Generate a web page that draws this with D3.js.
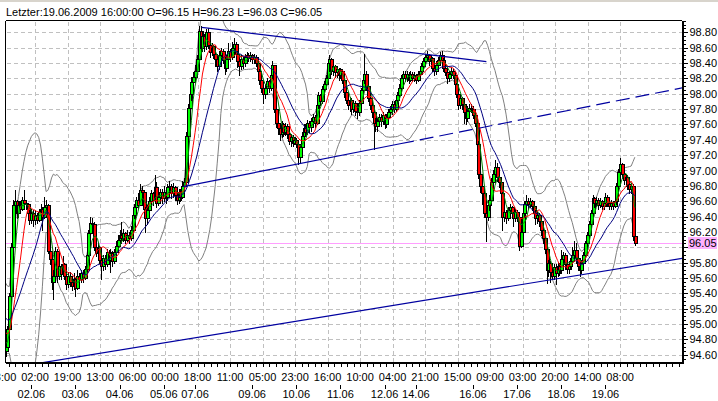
<!DOCTYPE html>
<html><head><meta charset="utf-8">
<script src="https://cdn.jsdelivr.net/npm/d3@7"></script>
<style>
body{margin:0;background:#fff;}
svg{display:block;}
text{font-family:"Liberation Sans",Arial,sans-serif;font-size:11px;fill:#000;}
</style></head>
<body><svg id="chart" width="718" height="401"></svg>
<script>
// ---------------- DATA ----------------
// Hourly USD/JPY bars. Index 0 = 02.06.2009 02:00. Visible bars run from index -16 to 326.
const firstBar = -16;
// closes before the visible window (indices -45..-17), only used to warm up the indicators
const preCloses = [95.62,95.58,95.60,95.55,95.52,95.56,95.48,95.45,95.50,95.42,95.38,95.40,95.34,95.30,95.33,95.25,95.20,95.22,95.15,95.10,95.12,95.05,95.00,95.02,94.95,94.88,94.80,94.72,94.65];
const closes = [
94.70,94.93,95.36,96.00,96.55,96.60,96.45,96.55,96.50,96.62,
96.58,96.56,96.45,96.36,96.45,96.35,96.42,96.36,96.46,96.50,
96.40,96.52,96.55,95.95,95.85,95.55,95.62,95.95,95.62,95.75,
95.65,95.78,95.62,95.52,95.62,95.55,95.50,95.58,95.47,95.62,
95.58,95.66,95.60,95.72,95.90,96.18,96.32,96.30,96.00,95.92,
96.00,95.84,95.75,95.86,95.78,95.94,95.84,95.92,95.82,95.94,
96.02,96.10,96.16,96.12,96.18,96.10,96.16,96.12,96.22,96.42,
96.52,96.62,96.55,96.75,96.72,96.50,96.38,96.48,96.60,96.70,
96.62,96.78,96.58,96.66,96.72,96.64,96.72,96.66,96.78,96.80,
96.70,96.78,96.68,96.62,96.72,96.66,96.80,96.85,97.45,97.82,
98.00,98.15,98.22,98.30,98.45,98.82,98.60,98.75,98.62,98.80,
98.64,98.54,98.62,98.52,98.45,98.36,98.50,98.55,98.44,98.34,
98.45,98.55,98.48,98.60,98.65,98.52,98.42,98.36,98.45,98.40,
98.48,98.50,98.46,98.50,98.45,98.48,98.40,98.30,98.18,98.08,
98.00,98.08,98.16,98.08,98.25,98.38,97.80,97.62,97.55,97.48,
97.60,97.50,97.58,97.48,97.38,97.44,97.36,97.40,97.34,97.18,
97.30,97.45,97.55,97.50,97.62,97.56,97.64,97.70,97.62,97.85,
97.98,97.90,98.06,98.12,98.20,98.40,98.45,98.30,98.36,98.28,
98.32,98.24,98.30,98.18,98.02,97.92,97.85,97.92,97.80,97.88,
97.78,97.76,97.88,98.05,98.18,98.26,98.10,97.94,97.85,97.76,
97.62,97.58,97.64,97.70,97.64,97.72,97.60,97.70,97.76,97.80,
97.86,97.80,97.92,97.98,98.08,98.20,98.26,98.20,98.26,98.18,
98.26,98.20,98.24,98.18,98.26,98.30,98.36,98.42,98.48,98.50,
98.42,98.46,98.34,98.30,98.38,98.44,98.50,98.44,98.34,98.28,
98.20,98.26,98.30,98.24,98.12,98.00,97.85,97.95,97.86,97.76,
97.68,97.78,97.82,97.80,97.72,97.62,97.35,96.95,96.80,96.70,
96.45,96.40,96.55,96.62,96.85,96.95,97.05,96.92,96.85,96.70,
96.40,96.46,96.38,96.48,96.52,96.44,96.38,96.46,96.40,96.02,
96.20,96.44,96.56,96.60,96.56,96.60,96.54,96.44,96.38,96.42,
96.34,96.22,96.12,95.98,95.70,95.80,95.68,95.62,95.74,95.66,
95.76,95.70,95.85,95.90,95.78,95.72,95.76,95.82,95.90,95.96,
95.86,95.76,95.70,95.80,95.90,96.05,96.16,96.30,96.44,96.64,
96.58,96.62,96.55,96.60,96.54,96.58,96.66,96.58,96.54,96.58,
96.54,96.60,96.80,96.98,97.08,96.96,96.88,96.92,96.82,96.76,
96.80,96.15,96.05];
const highs = [
94.72,94.98,95.40,96.05,96.62,96.75,96.62,96.60,96.60,96.65,
96.74,96.62,96.58,96.48,96.50,96.48,96.48,96.45,96.50,96.56,
96.52,96.66,96.62,96.56,96.00,95.85,95.70,96.00,95.98,95.80,
95.78,95.88,95.80,95.66,95.68,95.68,95.58,95.66,95.60,95.70,
95.66,95.70,95.70,95.76,95.94,96.22,96.40,96.38,96.33,96.02,
96.05,96.02,95.88,95.90,95.90,95.98,95.96,95.98,95.95,95.98,
96.08,96.16,96.22,96.33,96.24,96.20,96.22,96.20,96.28,96.46,
96.56,96.66,96.70,96.83,96.80,96.75,96.52,96.55,96.65,96.75,
96.72,96.94,96.85,96.72,96.76,96.76,96.80,96.75,96.82,96.86,
96.82,96.84,96.80,96.72,96.76,96.76,96.86,96.90,97.50,97.86,
98.10,98.22,98.28,98.38,98.50,98.88,98.88,98.82,98.78,98.84,
98.85,98.68,98.66,98.64,98.56,98.48,98.55,98.60,98.58,98.48,
98.50,98.66,98.58,98.68,98.72,98.68,98.56,98.48,98.50,98.48,
98.52,98.54,98.53,98.54,98.52,98.52,98.50,98.42,98.32,98.20,
98.10,98.12,98.20,98.18,98.30,98.42,98.38,97.82,97.66,97.58,
97.64,97.62,97.62,97.60,97.50,97.48,97.46,97.44,97.42,97.40,
97.34,97.50,97.60,97.60,97.66,97.65,97.68,97.74,97.72,97.90,
98.02,98.00,98.10,98.16,98.24,98.44,98.50,98.46,98.40,98.38,
98.36,98.34,98.34,98.32,98.20,98.04,97.96,97.96,97.94,97.92,
97.90,97.84,97.92,98.08,98.22,98.52,98.30,98.12,97.96,97.88,
97.78,97.68,97.68,97.74,97.74,97.76,97.74,97.74,97.80,97.84,
97.90,97.90,97.96,98.02,98.12,98.24,98.30,98.30,98.30,98.28,
98.30,98.28,98.28,98.26,98.30,98.34,98.40,98.46,98.52,98.56,
98.52,98.50,98.48,98.38,98.42,98.48,98.54,98.56,98.46,98.38,
98.30,98.30,98.34,98.32,98.26,98.14,98.02,98.00,97.96,97.88,
97.80,97.84,97.86,97.86,97.84,97.76,97.64,97.38,96.98,96.84,
96.74,96.50,96.60,96.68,96.90,97.00,97.14,97.10,96.96,96.88,
96.72,96.50,96.48,96.52,96.56,96.54,96.46,96.50,96.48,96.42,
96.24,96.48,96.60,96.68,96.64,96.64,96.62,96.56,96.48,96.46,
96.44,96.36,96.26,96.14,96.00,95.84,95.82,95.74,95.78,95.78,
95.80,95.80,95.96,95.94,95.92,95.82,95.80,95.86,96.00,96.08,
96.06,95.88,95.80,95.84,95.94,96.08,96.20,96.34,96.48,96.68,
96.66,96.66,96.64,96.64,96.62,96.62,96.70,96.68,96.62,96.62,
96.60,96.64,96.84,97.02,97.16,97.10,96.98,96.96,96.94,96.86,
96.84,96.82,96.23];
const lows = [
94.58,94.70,94.90,95.30,95.95,96.45,96.38,96.40,96.45,96.48,
96.52,96.50,96.40,96.30,96.32,96.28,96.30,96.32,96.34,96.40,
96.22,96.38,96.45,95.92,95.78,95.45,95.32,95.60,95.55,95.58,
95.58,95.62,95.58,95.45,95.48,95.50,95.44,95.45,95.36,95.45,
95.52,95.55,95.55,95.58,95.70,95.88,96.15,96.22,95.96,95.88,
95.85,95.80,95.58,95.70,95.72,95.75,95.78,95.68,95.76,95.80,
95.90,95.98,96.06,96.06,96.08,96.05,96.08,96.06,96.10,96.20,
96.38,96.48,96.50,96.55,96.62,96.45,96.20,96.30,96.42,96.56,
96.55,96.60,96.52,96.55,96.60,96.58,96.60,96.58,96.62,96.66,
96.64,96.66,96.62,96.56,96.58,96.60,96.64,96.72,96.80,97.40,
97.70,97.92,98.05,98.15,98.25,98.40,98.55,98.55,98.55,98.58,
98.60,98.48,98.50,98.46,98.36,98.30,98.32,98.44,98.40,98.26,
98.30,98.40,98.42,98.45,98.55,98.48,98.35,98.25,98.32,98.34,
98.36,98.42,98.42,98.42,98.40,98.40,98.36,98.26,98.12,98.02,
97.88,97.95,98.02,98.02,98.05,98.20,97.76,97.56,97.48,97.40,
97.44,97.45,97.46,97.42,97.34,97.32,97.32,97.34,97.30,97.08,
97.10,97.28,97.42,97.46,97.48,97.50,97.52,97.58,97.56,97.60,
97.82,97.85,97.88,98.00,98.06,98.18,98.30,98.26,98.24,98.22,
98.22,98.18,98.20,98.14,97.96,97.88,97.80,97.78,97.74,97.76,
97.72,97.68,97.72,97.85,98.02,98.14,98.05,97.90,97.80,97.70,
97.28,97.52,97.52,97.58,97.58,97.60,97.55,97.56,97.66,97.70,
97.74,97.76,97.78,97.88,97.94,98.04,98.16,98.16,98.16,98.14,
98.16,98.16,98.16,98.14,98.16,98.22,98.26,98.32,98.38,98.42,
98.38,98.36,98.30,98.24,98.26,98.34,98.40,98.40,98.30,98.24,
98.14,98.16,98.22,98.20,98.08,97.96,97.80,97.82,97.80,97.62,
97.60,97.64,97.74,97.76,97.68,97.58,97.30,96.90,96.72,96.56,
96.40,96.08,96.36,96.48,96.60,96.80,96.92,96.86,96.78,96.64,
96.22,96.34,96.32,96.36,96.42,96.38,96.28,96.34,96.34,95.96,
96.00,96.18,96.40,96.50,96.50,96.52,96.48,96.40,96.30,96.32,
96.28,96.16,96.06,95.92,95.54,95.62,95.55,95.58,95.58,95.52,
95.62,95.64,95.66,95.78,95.72,95.66,95.66,95.72,95.78,95.86,
95.80,95.70,95.62,95.66,95.76,95.86,95.98,96.12,96.26,96.40,
96.52,96.54,96.50,96.52,96.50,96.50,96.54,96.54,96.50,96.50,
96.50,96.52,96.56,96.76,96.94,96.90,96.82,96.80,96.76,96.70,
96.70,96.10,96.03];
const lastPrice = 96.05;
const title = "Letzter:19.06.2009 16:00:00 O=96.15 H=96.23 L=96.03 C=96.05";
// x-axis labels: time labels every 17.667 bars, starting one step before bar 0
const timeLabels = ["08:00","02:00","19:00","13:00","06:00","00:00","18:00","11:00","05:00","23:00","16:00","10:00","04:00","21:00","15:00","09:00","03:00","20:00","14:00","08:00"];
const dateLabels = ["02.06","03.06","04.06","05.06","07.06","09.06","10.06","11.06","12.06","14.06","16.06","17.06","18.06","19.06"];
const dateBars   = [-2,22,46,70,87,118,142,166,190,207,238,262,286,310];
// hand-drawn trend lines: [barIndex, price] anchors
const trendTop     = [[90.6,98.865],[245.3,98.417]];
const trendMid     = [[80.6,96.789],[198.4,97.348]];   // extended dashed to the right
const trendBottom  = [[3.97,94.496],[352,95.856]];
// indicator settings
const maPeriods = [{n:5,color:"#008000"},{n:10,color:"#ff0000"},{n:20,color:"#000080"}];
const bbPeriod = 20, bbDev = 2;

// ---------------- LAYOUT ----------------
const plot = {l:5.5, t:20.5, r:682, b:362};
const step = 1.84, x0 = 35;
const x = d3.scaleLinear().domain([0,100]).range([x0, x0+100*step]);
const y = d3.scaleLinear().domain([94.6,98.8]).range([354.7,32.3]);
const svg = d3.select("#chart");

// thin window-chrome strip along the top edge
svg.append("rect").attr("x",0).attr("y",0).attr("width",718).attr("height",2).attr("fill","#d8d4cc");

svg.append("defs").append("clipPath").attr("id","clip")
  .append("rect").attr("x",plot.l+0.5).attr("y",plot.t+0.5).attr("width",plot.r-plot.l-0.5).attr("height",plot.b-plot.t-0.5);

// bars
const bars = closes.map((c,k)=>{
  const i = firstBar + k;
  const o = k===0 ? preCloses[preCloses.length-1] : closes[k-1];
  return {i, o, c, h:Math.max(highs[k],o,c), l:Math.min(lows[k],o,c)};
});
const allCloses = preCloses.concat(closes);
const off = preCloses.length;
function sma(n){
  return bars.map((b,k)=>{const e=k+off; const s=d3.mean(allCloses.slice(e-n+1,e+1)); return [b.i,s];});
}
function bb(n,dev){
  return bars.map((b,k)=>{const e=k+off; const w=allCloses.slice(e-n+1,e+1); const m=d3.mean(w);
    const sd=Math.sqrt(d3.mean(w,v=>(v-m)*(v-m))); return {i:b.i, up:m+dev*sd, lo:m-dev*sd};});
}

// grid
const priceTicks = d3.range(94.6, 98.81, 0.2).map(v=>+v.toFixed(2));
const grid = svg.append("g").attr("stroke","#c0c0c0").attr("stroke-dasharray","4,3").attr("shape-rendering","crispEdges");
priceTicks.forEach(p=>{
  const yy = Math.round(y(p))+0.5;
  grid.append("line").attr("x1",plot.l+1).attr("x2",plot.r).attr("y1",yy).attr("y2",yy);
});
const labelStep = 17.6667;
const labelBars = timeLabels.map((t,k)=>(k-1)*labelStep);
labelBars.forEach(b=>{
  const xx = Math.round(x(b))+0.5;
  if (xx>plot.l+1 && xx<plot.r) grid.append("line").attr("x1",xx).attr("x2",xx).attr("y1",plot.t+1).attr("y2",plot.b);
});

const g = svg.append("g").attr("clip-path","url(#clip)");
// last price line
g.append("line").attr("x1",plot.l).attr("x2",plot.r).attr("y1",Math.round(y(lastPrice))+0.5).attr("y2",Math.round(y(lastPrice))+0.5)
  .attr("stroke","#ff9eff").attr("stroke-width",1.5).attr("shape-rendering","crispEdges");

const line = d3.line().x(d=>x(d[0])).y(d=>y(d[1]));
// Bollinger bands
const band = bb(bbPeriod,bbDev);
g.append("path").attr("d",line(band.map(d=>[d.i,d.up]))).attr("fill","none").attr("stroke","#808080").attr("stroke-width",1);
g.append("path").attr("d",line(band.map(d=>[d.i,d.lo]))).attr("fill","none").attr("stroke","#808080").attr("stroke-width",1);

// candles
const cg = g.append("g").attr("shape-rendering","crispEdges");
bars.forEach(b=>{
  const c = Math.round(x(b.i));
  cg.append("line").attr("x1",c+0.5).attr("x2",c+0.5).attr("y1",Math.round(y(b.h))).attr("y2",Math.round(y(b.l))+1).attr("stroke","#000");
  const top = Math.round(y(Math.max(b.o,b.c))), bot = Math.round(y(Math.min(b.o,b.c)));
  cg.append("rect").attr("x",c-1+0.5).attr("y",top+0.5).attr("width",3).attr("height",Math.max(bot-top,1))
    .attr("fill", b.c>=b.o ? "#00ff00" : "#ff0000").attr("stroke","#000").attr("stroke-width",1);
});

// moving averages
maPeriods.forEach(m=>{
  g.append("path").attr("d",line(sma(m.n))).attr("fill","none").attr("stroke",m.color).attr("stroke-width",1);
});

// trend lines
function extend(a,b,toBar){ const k=(b[1]-a[1])/(b[0]-a[0]); return [toBar, a[1]+k*(toBar-a[0])]; }
const tl = g.append("g").attr("stroke","#0000a0").attr("stroke-width",1.2).attr("fill","none");
tl.append("path").attr("d",line(trendTop));
tl.append("path").attr("d",line(trendMid));
tl.append("path").attr("d",line([trendMid[1], extend(trendMid[0],trendMid[1],360)])).attr("stroke-dasharray","14,6");
tl.append("path").attr("d",line(trendBottom));

// frame
const fr = svg.append("g").attr("shape-rendering","crispEdges").attr("stroke","#000");
fr.append("line").attr("x1",plot.l).attr("x2",plot.r).attr("y1",plot.t).attr("y2",plot.t);
fr.append("line").attr("x1",plot.l).attr("x2",plot.l).attr("y1",plot.t).attr("y2",plot.b+1);
fr.append("line").attr("x1",plot.r+0.5).attr("x2",plot.r+0.5).attr("y1",plot.t).attr("y2",plot.b+2).attr("stroke-width",2);
fr.append("line").attr("x1",plot.l).attr("x2",plot.r+1.5).attr("y1",plot.b+1).attr("y2",plot.b+1).attr("stroke-width",2);

// right axis (the 96.00 label sits under the last-price box, as in the original)
const yAxis = d3.axisRight(y).tickValues(priceTicks).tickFormat(d3.format(".2f")).tickSize(4).tickPadding(2);
const ya = svg.append("g").attr("transform",`translate(${plot.r+1.5},0)`).call(yAxis);
ya.select(".domain").remove();
ya.selectAll("line").attr("shape-rendering","crispEdges");
ya.selectAll("text").attr("font-size",11).attr("font-family",null);
ya.selectAll(".tick").filter(d=>Math.abs(d-lastPrice)<0.1).select("text").remove();
const minor = d3.range(94.55, 98.95, 0.05).filter(v=>!priceTicks.some(p=>Math.abs(p-v)<0.001));
svg.append("g").selectAll("line").data(minor).join("line")
  .attr("x1",plot.r+1.5).attr("x2",plot.r+3.5).attr("y1",d=>Math.round(y(d))+0.5).attr("y2",d=>Math.round(y(d))+0.5)
  .attr("stroke","#000").attr("shape-rendering","crispEdges");
// last price box
const lp = svg.append("g");
lp.append("rect").attr("x",688).attr("y",Math.round(y(lastPrice))-6).attr("width",29).attr("height",12).attr("fill","#ffb0ff");
lp.append("text").attr("x",689).attr("y",Math.round(y(lastPrice))+4).text(lastPrice.toFixed(2));

// bottom axis
const bx = svg.append("g");
const minorBars = d3.range(-labelStep, 360, labelStep/5);
bx.selectAll("line.m").data(minorBars.filter(b=>x(b)>plot.l && x(b)<plot.r)).join("line")
  .attr("x1",d=>Math.round(x(d))+0.5).attr("x2",d=>Math.round(x(d))+0.5).attr("y1",plot.b+2).attr("y2",plot.b+5)
  .attr("stroke","#000").attr("shape-rendering","crispEdges");
bx.selectAll("text.t").data(timeLabels).join("text")
  .attr("x",(d,k)=>x(labelBars[k])).attr("y",381).attr("text-anchor","middle").text(d=>d);
bx.selectAll("text.d").data(dateLabels).join("text")
  .attr("x",(d,k)=>x(dateBars[k])).attr("y",398).attr("text-anchor","middle").text(d=>d);
bx.selectAll("line.d").data(dateBars).join("line")
  .attr("x1",d=>Math.round(x(d))+0.5).attr("x2",d=>Math.round(x(d))+0.5).attr("y1",385).attr("y2",389)
  .attr("stroke","#000").attr("shape-rendering","crispEdges");

// title
svg.append("text").attr("x",6).attr("y",16).attr("font-size",13).text(title);
</script></body></html>
